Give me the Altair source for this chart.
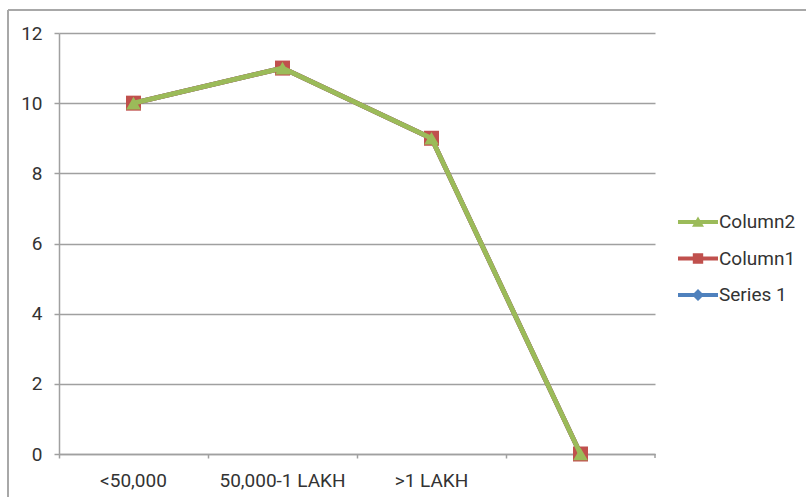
import altair as alt
import pandas as pd

# Categories along the x axis (the fourth slot has no label)
categories = ["<50,000", "50,000-1 LAKH", ">1 LAKH", " "]

# Series values, one per category
series_1 = [10, 11, 9, 0]
column_1 = [10, 11, 9, 0]
column_2 = [10, 11, 9, 0]

series_names = ["Series 1", "Column1", "Column2"]
series_data = {"Series 1": series_1, "Column1": column_1, "Column2": column_2}
series_colors = {"Series 1": "#4F81BD", "Column1": "#C0504D", "Column2": "#9BBB59"}
series_shapes = {"Series 1": "diamond", "Column1": "square", "Column2": "triangle-up"}
series_sizes = {"Series 1": 170, "Column1": 225, "Column2": 215}

legend_order = ["Column2", "Column1", "Series 1"]
# Legend glyphs: a line segment with the series marker on it
legend_paths = {
    "Column2": "M-1,-0.1H1V0.1H-1Z M0,-0.28L0.3,0.24H-0.3Z",
    "Column1": "M-1,-0.1H1V0.1H-1Z M-0.26,-0.26H0.26V0.26H-0.26Z",
    "Series 1": "M-1,-0.1H1V0.1H-1Z M0,-0.3L0.3,0L0,0.3L-0.3,0Z",
}

y_ticks = [0, 2, 4, 6, 8, 10, 12]

rows = []
for name in series_names:
    for cat, val in zip(categories, series_data[name]):
        rows.append({"category": cat, "value": val, "series": name})
df = pd.DataFrame(rows)

W, H = 596, 421
FONT = "Roboto"
GRID = "#a0a0a0"
TEXT = "#333333"
FS = 19

x_enc = alt.X(
    "category:N",
    sort=categories,
    scale=alt.Scale(type="band", domain=categories, paddingInner=0, paddingOuter=0),
    axis=alt.Axis(
        title=None, bandPosition=0, labelAngle=0,
        tickSize=4, tickColor=GRID, tickWidth=1.5, domainColor=GRID, domainWidth=1.5,
        labelFont=FONT, labelFontSize=FS, labelColor=TEXT, labelPadding=13,
        labelBaseline="top", grid=False,
    ),
)
y_enc = alt.Y(
    "value:Q",
    scale=alt.Scale(domain=[0, 12], nice=False, zero=True),
    axis=alt.Axis(
        title=None, values=y_ticks, tickSize=5, tickColor=GRID, tickWidth=1.5,
        domainColor=GRID, domainWidth=1.5, grid=True, gridColor=GRID, gridWidth=1.5,
        labelFont=FONT, labelFontSize=FS, labelColor=TEXT, labelPadding=12,
    ),
)

layers = []
# Each series draws its line, then its markers, in series order
for name in series_names:
    base = alt.Chart(df).transform_filter(alt.datum.series == name)
    layers.append(
        base.mark_line(strokeWidth=4.8, color=series_colors[name]).encode(x=x_enc, y=y_enc)
    )
    layers.append(
        base.mark_point(
            filled=True, opacity=1, shape=series_shapes[name],
            size=series_sizes[name], color=series_colors[name],
        ).encode(x=x_enc, y=y_enc)
    )

# Legend only: no marks drawn, entries come from the explicit scale domain
legend_cfg = dict(
    title=None, orient="none", legendX=619, legendY=169, padding=0,
    symbolSize=1600, symbolStrokeWidth=0, labelOffset=1, rowPadding=6.5,
    labelFont=FONT, labelFontSize=FS, labelColor=TEXT,
)
legend_layer = (
    alt.Chart(df)
    .transform_filter("false")
    .mark_point(filled=True, opacity=1)
    .encode(
        x=x_enc,
        y=y_enc,
        color=alt.Color(
            "series:N",
            scale=alt.Scale(domain=legend_order, range=[series_colors[s] for s in legend_order]),
            legend=alt.Legend(**legend_cfg),
        ),
        shape=alt.Shape(
            "series:N",
            scale=alt.Scale(domain=legend_order, range=[legend_paths[s] for s in legend_order]),
            legend=alt.Legend(**legend_cfg),
        ),
    )
)
layers.append(legend_layer)

one = alt.Data(values=[{"k": 1}])
# Closing tick at the right end of the category axis
end_tick = alt.Chart(one).mark_rule(color=GRID, strokeWidth=1.5).encode(
    x=alt.value(W), y=alt.value(H), y2=alt.value(H + 4)
)
# Chart frame: left and top edges
frame_left = alt.Chart(one).mark_rule(color="#a8a8a8", strokeWidth=2).encode(
    x=alt.value(-51), y=alt.value(-23), y2=alt.value(H + 60)
)
frame_top = alt.Chart(one).mark_rule(color="#a8a8a8", strokeWidth=2).encode(
    x=alt.value(-51), x2=alt.value(806 - 59), y=alt.value(-23)
)
layers += [end_tick, frame_left, frame_top]

chart = (
    alt.layer(*layers)
    .properties(
        width=W, height=H,
        autosize=alt.AutoSizeParams(type="none"),
        padding={"left": 59, "top": 33, "right": 806 - 59 - W, "bottom": 497 - 33 - H},
        background="white",
    )
    .configure_view(stroke=None)
)

chart.save("out.html", embed_options={"renderer": "svg", "actions": False})
